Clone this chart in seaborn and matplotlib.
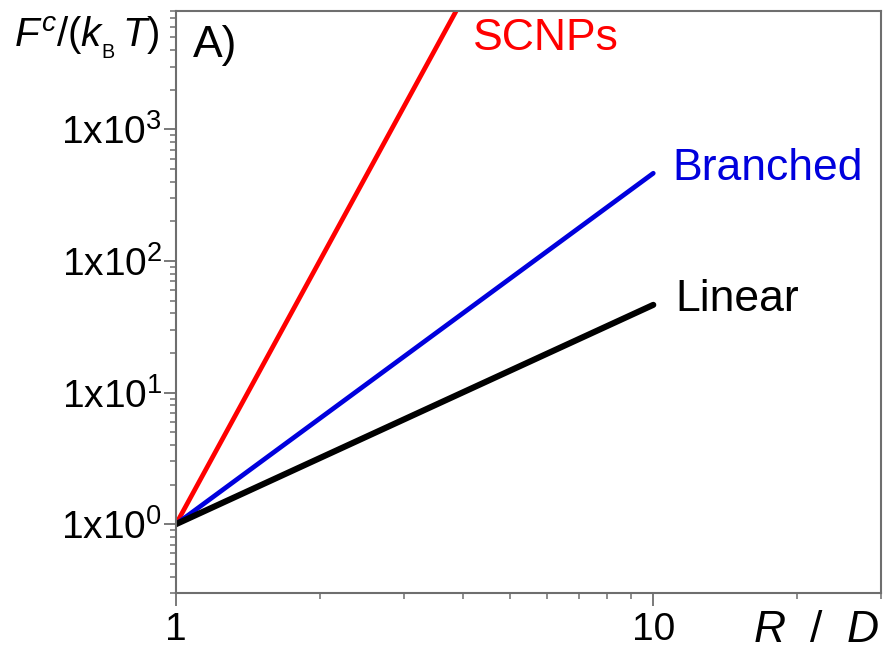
import numpy as np
import pandas as pd
import matplotlib
matplotlib.use("Agg")
import matplotlib.pyplot as plt
import matplotlib.ticker as mticker
import seaborn as sns

# values (straight lines on log-log axes)
linear_x = [1, 10]
linear_y = [1, 46.4]
branched_x = [1, 10]
branched_y = [1, 464]
scnp_x = [1, 4]
scnp_y = [1, 10000]

ytick_vals = [1, 10, 100, 1000]
ytick_labels = [r"$\mathregular{1x10^{%d}}$" % i for i in range(4)]
xtick_vals = [1, 10]
xtick_labels = ["1", "10"]

sns.set_style("white")
plt.rcParams["font.family"] = ["Liberation Sans", "DejaVu Sans"]
plt.rcParams["mathtext.fontset"] = "custom"
plt.rcParams["mathtext.rm"] = "Liberation Sans"
plt.rcParams["mathtext.it"] = "Liberation Sans:italic"

axis_grey = "#6e6e6e"

fig = plt.figure(figsize=(8.85, 6.55), dpi=100)
ax = fig.add_axes([176 / 885, 1 - 593 / 655, 705 / 885, 582.5 / 655])

sns.lineplot(x=scnp_x, y=scnp_y, color="#ff0000", lw=3.4, ax=ax)
sns.lineplot(x=branched_x, y=branched_y, color="#0000dd", lw=3.4, ax=ax)
sns.lineplot(x=linear_x, y=linear_y, color="black", lw=4.4, ax=ax)

ax.set_xscale("log")
ax.set_yscale("log")
ax.set_xlim(1, 30)
ax.set_ylim(0.3, 8000)

ax.yaxis.set_major_locator(mticker.FixedLocator(ytick_vals))
ax.yaxis.set_major_formatter(mticker.FixedFormatter(ytick_labels))
ax.yaxis.set_minor_locator(mticker.LogLocator(base=10, subs=np.arange(2, 10)))
ax.yaxis.set_minor_formatter(mticker.NullFormatter())
ax.xaxis.set_major_locator(mticker.FixedLocator(xtick_vals))
ax.xaxis.set_major_formatter(mticker.FixedFormatter(xtick_labels))
ax.xaxis.set_minor_locator(mticker.LogLocator(base=10, subs=np.arange(2, 10)))
ax.xaxis.set_minor_formatter(mticker.NullFormatter())

for s in ax.spines.values():
    s.set_color(axis_grey)
    s.set_linewidth(1.5)
ax.tick_params(which="major", direction="out", length=9, width=1.3,
               color=axis_grey, labelsize=28, labelcolor="black",
               left=True, bottom=True)
ax.tick_params(which="minor", direction="out", length=4.5, width=1.1,
               color=axis_grey, left=True, bottom=True)
ax.tick_params(axis="y", which="major", pad=1)
ax.tick_params(axis="x", which="major", pad=5)
ax.set_xlabel("")
ax.set_ylabel("")

ax.text(4.18, 4900, "SCNPs", color="#ff0000", fontsize=32, va="center", ha="left")
ax.text(10.96, 500, "Branched", color="#0000dd", fontsize=32, va="center", ha="left")
ax.text(11.1, 51, "Linear", color="black", fontsize=32, va="center", ha="left")
ax.text(0.024, 0.94, "A)", transform=ax.transAxes, fontsize=32, color="black",
        va="center", ha="left")

fig.text(14 / 885, 1 - 38 / 655, r"$F^{c}/(k_{_{\mathrm{B}}}\,T)$", fontsize=29,
         color="black", va="center", ha="left")
fig.text(880 / 885, 1 - 630 / 655, r"$R\ \ /\ \ D$", fontsize=32, color="black",
         va="center", ha="right")

fig.savefig("out.png", dpi=100)
